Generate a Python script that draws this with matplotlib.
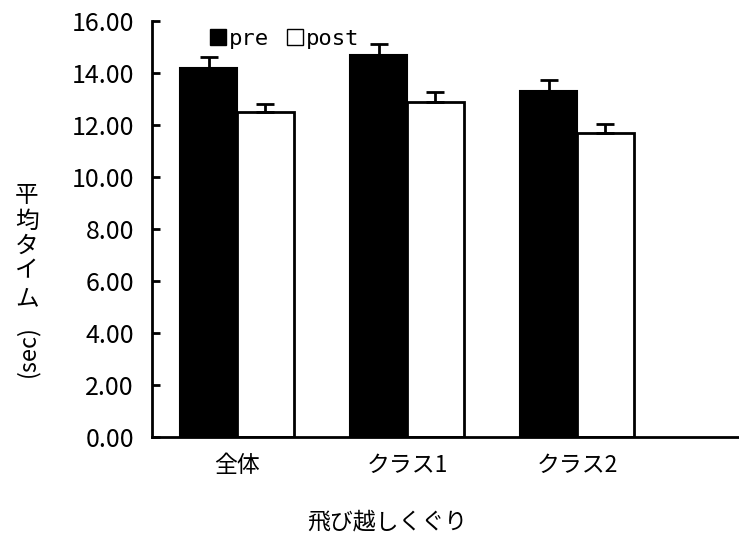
import matplotlib
matplotlib.use("Agg")
import matplotlib.pyplot as plt
from matplotlib import font_manager
import numpy as np
from matplotlib.patches import Rectangle

plt.rcParams['font.family'] = ['Noto Sans CJK JP', 'DejaVu Sans']

categories = ["全体", "クラス1", "クラス2"]
pre = [14.2, 14.7, 13.3]
pre_err = [0.40, 0.42, 0.42]
post = [12.5, 12.9, 11.7]
post_err = [0.30, 0.38, 0.35]
yticks = [0, 2, 4, 6, 8, 10, 12, 14, 16]

# pick a narrow font for tick numbers if available
try:
    font_manager.findfont(font_manager.FontProperties(family='Liberation Sans Narrow'),
                          fallback_to_default=False)
    tick_family, tick_size = 'Liberation Sans Narrow', 21
except Exception:
    tick_family, tick_size = 'Noto Sans CJK JP', 18

fig = plt.figure(figsize=(7.39, 5.40), dpi=100)
ax = fig.add_axes([152/739, 1-437/540, (739-152)/739, (437-21)/540])

x = np.arange(len(categories))
w = 0.335
ax.bar(x - w/2, pre, w, color='black', edgecolor='black', linewidth=1.5, zorder=2)
ax.bar(x + w/2, post, w, color='white', edgecolor='black', linewidth=2, zorder=2)
ax.errorbar(x - w/2, pre, yerr=[np.zeros(3), pre_err], fmt='none', ecolor='black',
            elinewidth=2, capsize=6.5, capthick=2, zorder=3)
ax.errorbar(x + w/2, post, yerr=[np.zeros(3), post_err], fmt='none', ecolor='black',
            elinewidth=2, capsize=6.5, capthick=2, zorder=3)

ax.set_xlim(-0.5, 2.953)
ax.set_ylim(0, 16)
ax.set_yticks(yticks)
ax.set_yticklabels([f"{v:.2f}" for v in yticks], fontsize=tick_size, family=tick_family)
ax.set_xticks(x)
ax.set_xticklabels(categories, fontsize=16.5)
ax.tick_params(axis='x', length=0, pad=12)
ax.tick_params(axis='y', direction='in', length=6, width=2, pad=13)
for s in ['top', 'right']:
    ax.spines[s].set_visible(False)
for s in ['left', 'bottom']:
    ax.spines[s].set_linewidth(2)

handles = [Rectangle((0, 0), 1, 1, facecolor='black', edgecolor='black'),
           Rectangle((0, 0), 1, 1, facecolor='white', edgecolor='black')]
ax.legend(handles, ['pre', 'post'], loc='upper left', bbox_to_anchor=(0.065, 1.03),
          ncol=2, frameon=False, handlelength=0.7, handleheight=0.7,
          handletextpad=0.15, columnspacing=0.8,
          prop={'family': 'DejaVu Sans Mono', 'size': 16})

# y label: upright stacked Japanese characters + rotated (sec)
chars = "平均タイム"
ys = [195, 221, 246, 271, 299]
for c, yy in zip(chars, ys):
    fig.text(27/739, 1 - yy/540, c, fontsize=17, ha='center', va='center')
fig.text(27/739, 1 - 351/540, "(sec)", fontsize=17, rotation=90, ha='center', va='center')

fig.text(387/739, 1 - 522/540, "飛び越しくぐり", fontsize=16.5, ha='center', va='center')

fig.savefig("out.png", dpi=100)
